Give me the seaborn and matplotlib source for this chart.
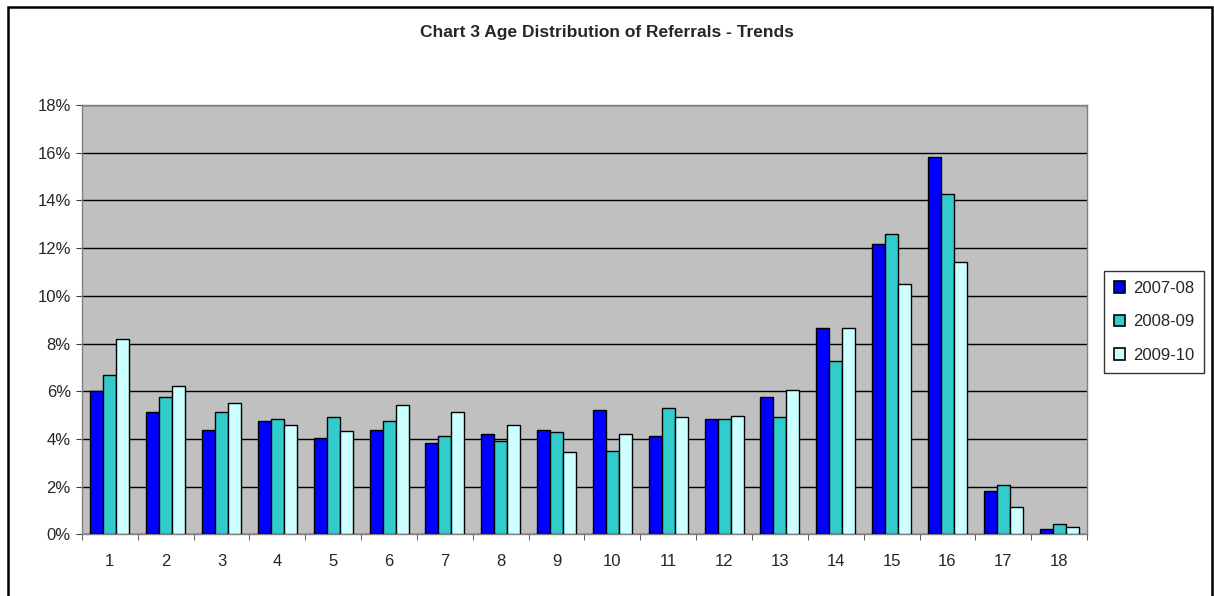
import numpy as np
import pandas as pd
import matplotlib
matplotlib.use("Agg")
import matplotlib.pyplot as plt
from matplotlib.patches import Rectangle
from matplotlib.ticker import PercentFormatter, FixedLocator
import seaborn as sns

ages = [str(i) for i in range(1, 19)]
s2007 = [6.0, 5.13, 4.36, 4.75, 4.05, 4.36, 3.83, 4.21, 4.36, 5.21, 4.14, 4.82, 5.74, 8.65, 12.19, 15.82, 1.83, 0.22]
s2008 = [6.67, 5.74, 5.13, 4.82, 4.90, 4.75, 4.14, 3.90, 4.28, 3.51, 5.28, 4.82, 4.90, 7.28, 12.58, 14.28, 2.05, 0.45]
s2009 = [8.19, 6.20, 5.51, 4.58, 4.35, 5.42, 5.13, 4.58, 3.44, 4.21, 4.90, 4.97, 6.05, 8.65, 10.49, 11.42, 1.15, 0.29]
series_names = ["2007-08", "2008-09", "2009-10"]
colors = ["#0000FF", "#33CCCC", "#CCFFFF"]

df = pd.concat([
    pd.DataFrame({"Age": ages, "Year": name, "Value": vals})
    for name, vals in zip(series_names, [s2007, s2008, s2009])
])

sns.set_style("white")
plt.rcParams["font.family"] = ["Liberation Sans", "DejaVu Sans"]

fig = plt.figure(figsize=(12.14, 5.96), dpi=100)
ax = fig.add_axes([0.0675, 0.1035, 0.8279, 0.7203])
ax.set_facecolor("#C0C0C0")

sns.barplot(data=df, x="Age", y="Value", hue="Year", palette=colors,
            width=0.7, edgecolor="black", linewidth=1.0, ax=ax, errorbar=None,
            saturation=1, zorder=3)

ax.set_ylim(0, 18)
ax.set_xlim(-0.5, len(ages) - 0.5)
ax.yaxis.set_major_locator(FixedLocator(np.arange(0, 19, 2)))
ax.yaxis.set_major_formatter(PercentFormatter(decimals=0))
ax.grid(axis="y", color="black", linewidth=1.0, zorder=0)
ax.set_axisbelow(True)
ax.set_xlabel("")
ax.set_ylabel("")

for s in ["top", "right"]:
    ax.spines[s].set_visible(True)
    ax.spines[s].set_color("#808080")
    ax.spines[s].set_linewidth(1.0)
for s in ["left", "bottom"]:
    ax.spines[s].set_color("#808080")
    ax.spines[s].set_linewidth(1.0)

ax.tick_params(axis="x", which="major", length=0, labelsize=12, pad=14)
ax.xaxis.set_minor_locator(FixedLocator(np.arange(-0.5, len(ages), 1.0)))
ax.tick_params(axis="x", which="minor", length=4, color="#404040", bottom=True)
ax.tick_params(axis="y", which="major", length=4, color="#404040", labelsize=12, left=True, pad=4)

leg = ax.legend(loc="center left", bbox_to_anchor=(1.0165, 0.495), frameon=True,
                fancybox=False, edgecolor="#333333", fontsize=12, handlelength=0.7,
                handleheight=0.7, borderpad=0.6, labelspacing=1.1, handletextpad=0.45,
                framealpha=1, borderaxespad=0)
for h in leg.legend_handles:
    h.set_edgecolor("black")
    h.set_linewidth(1.2)

fig.text(0.5, 0.945, "Chart 3 Age Distribution of Referrals - Trends",
         ha="center", va="center", fontsize=12.5, fontweight="bold")

fig.patches.append(Rectangle((0.0065, -0.05), 0.992, 1.038, transform=fig.transFigure,
                             fill=False, edgecolor="black", linewidth=1.8))

fig.savefig("out.png", dpi=100, facecolor="white")
